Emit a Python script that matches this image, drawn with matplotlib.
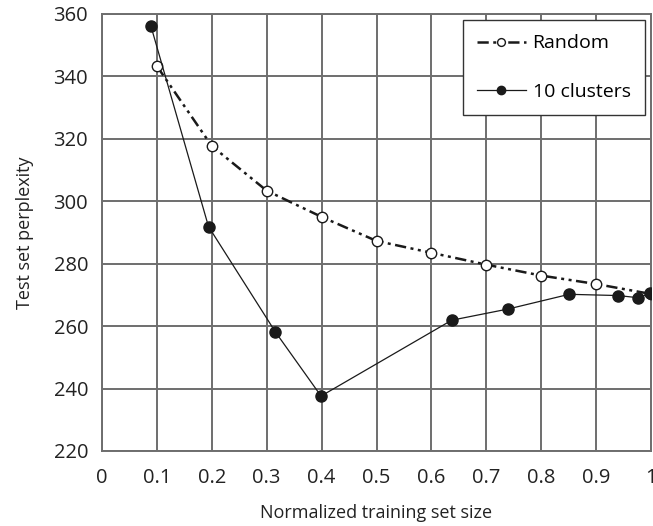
import matplotlib
matplotlib.use('Agg')
from matplotlib import pyplot as plt

# данные
random_x = [0.1, 0.2, 0.3, 0.4, 0.5, 0.6, 0.7, 0.8, 0.9, 1.0]
random_y = [343.3, 317.7, 303.4, 295.0, 287.3, 283.5, 279.7, 276.2, 273.5, 270.3]

clusters_x = [0.089, 0.194, 0.316, 0.399, 0.637, 0.740, 0.851, 0.940, 0.977, 0.998]
clusters_y = [356.2, 291.9, 258.1, 237.6, 261.9, 265.5, 270.2, 269.8, 269.1, 270.5]

x_ticks = [0, 0.1, 0.2, 0.3, 0.4, 0.5, 0.6, 0.7, 0.8, 0.9, 1]
x_tick_labels = ['0', '0.1', '0.2', '0.3', '0.4', '0.5', '0.6', '0.7', '0.8', '0.9', '1']
y_ticks = [220, 240, 260, 280, 300, 320, 340, 360]

plt.rcParams['font.family'] = ['Open Sans', 'DejaVu Sans']

fig = plt.figure(figsize=(6.53, 5.26), dpi=100)
ax = fig.add_axes([102 / 653, 1 - 451 / 526, 549 / 653, 437 / 526])

grid_color = '#6e6e6e'
ax.set_xlim(0, 1)
ax.set_ylim(220, 360)
ax.set_xticks(x_ticks)
ax.set_xticklabels(x_tick_labels)
ax.set_yticks(y_ticks)
ax.grid(True, color=grid_color, linewidth=1.4)
ax.set_axisbelow(True)
for side in ax.spines.values():
    side.set_color(grid_color)
    side.set_linewidth(1.4)
ax.tick_params(length=0, labelsize=14.5, pad=10, colors='#222222')
ax.tick_params(axis='x', pad=12)

ax.plot(random_x, random_y, color='#1a1a1a', linewidth=1.8, dashes=[4.5, 1.8, 1.2, 1.8, 1.2, 1.8],
        marker='o', markersize=7.5, markerfacecolor='white', markeredgecolor='#1a1a1a',
        markeredgewidth=1.0, label='Random', zorder=3)
ax.plot(clusters_x, clusters_y, color='#1a1a1a', linewidth=0.9,
        marker='o', markersize=8, markerfacecolor='#1a1a1a', markeredgecolor='#1a1a1a',
        label='10 clusters', zorder=4)

ax.set_xlabel('Normalized training set size', fontsize=13, labelpad=12, color='#222222')
ax.set_ylabel('Test set perplexity', fontsize=13, labelpad=14, color='#222222')

leg = ax.legend(loc='upper right', fontsize=14, fancybox=False, framealpha=1,
                edgecolor='#333333', borderpad=0.75, labelspacing=1.55,
                handlelength=2.5, handletextpad=0.35, borderaxespad=0.3,
                markerscale=0.75)
leg.get_frame().set_linewidth(1.0)
leg._legend_box.sep = 0

fig.savefig('out.png', dpi=100)
